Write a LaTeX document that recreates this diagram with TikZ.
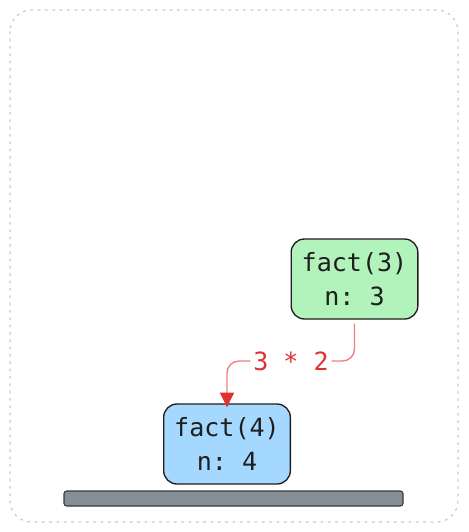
\documentclass[tikz,border=0pt]{standalone}
\usepackage{fontspec}
\setmonofont{DejaVu Sans Mono}
\usetikzlibrary{arrows.meta}

\definecolor{inkdark}{HTML}{1E1E1E}
\definecolor{framegrey}{HTML}{C8C8C8}
\definecolor{greenfill}{HTML}{B2F2BB}
\definecolor{bluefill}{HTML}{A5D8FF}
\definecolor{barfill}{HTML}{868E96}
\definecolor{barline}{HTML}{343A40}
\definecolor{retred}{HTML}{E03131}
\definecolor{retline}{HTML}{F27C7C}

\tikzset{
  frame/.style={framegrey, line width=0.9pt, dash pattern=on 2pt off 3.5pt, rounded corners=16pt},
  callbox/.style={draw=inkdark, line width=1pt, rounded corners=10pt, minimum width=95pt,
    minimum height=60pt, align=center, text=inkdark,
    font=\ttfamily\fontsize{18.8pt}{26pt}\selectfont},
  retlabel/.style={text=retred, inner sep=2pt, font=\ttfamily\fontsize{18.8pt}{26pt}\selectfont},
  retarrow/.style={retline, line width=1pt, rounded corners=9pt,
    -{Triangle[width=10.5pt,length=11pt,color=retred]}}
}

\begin{document}
\begin{tikzpicture}[x=0.75pt,y=-0.75pt]
\useasboundingbox (0,0) rectangle (468,532);

% outer frame
\draw [frame] (10,10) rectangle (458,522);

% stack bar
\draw [fill=barfill, draw=barline, line width=0.8pt, rounded corners=2pt] (64,491) rectangle (403,506);

% frames on the stack
\node [callbox, fill=bluefill] (fact4) at (227,444) {fact(4)\\n: 4};
\node [callbox, fill=greenfill] (fact3) at (354.5,279) {fact(3)\\n: 3};

% return value
\node [retlabel] (prod) at (291,361) {3 * 2};
\coordinate (f3out) at ([yshift=-3]fact3.south);
\coordinate (f4in) at ([yshift=-3]fact4.north);
\draw [retline, line width=1pt, rounded corners=9pt] (f3out) |- (prod.east);
\draw [retarrow] (prod.west) -| (f4in);
\end{tikzpicture}
\end{document}
